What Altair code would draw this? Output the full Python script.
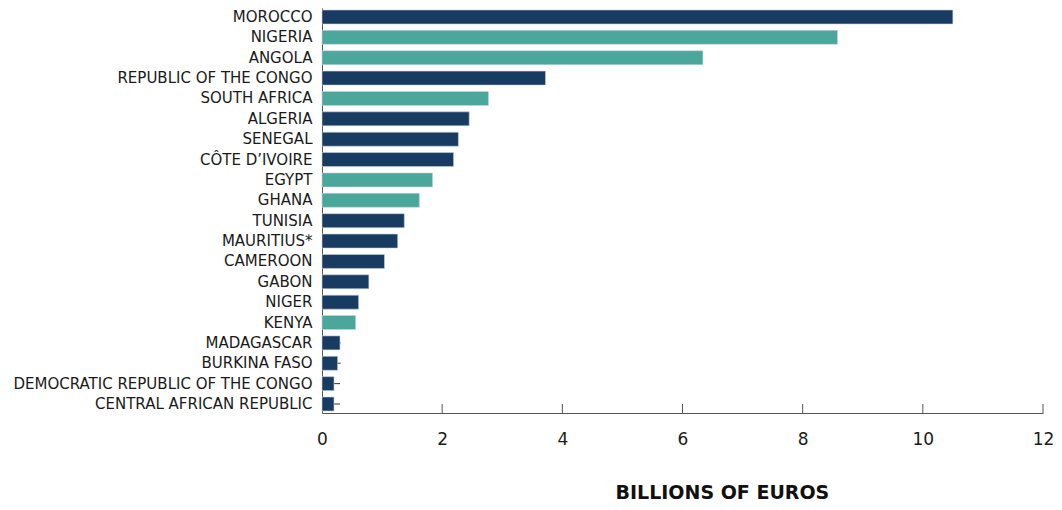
import altair as alt
import pandas as pd

countries = ["MOROCCO", "NIGERIA", "ANGOLA", "REPUBLIC OF THE CONGO", "SOUTH AFRICA",
             "ALGERIA", "SENEGAL", "CÔTE D’IVOIRE", "EGYPT", "GHANA", "TUNISIA",
             "MAURITIUS*", "CAMEROON", "GABON", "NIGER", "KENYA", "MADAGASCAR",
             "BURKINA FASO", "DEMOCRATIC REPUBLIC OF THE CONGO", "CENTRAL AFRICAN REPUBLIC"]
values = [10.5, 8.58, 6.34, 3.72, 2.77, 2.45, 2.27, 2.19, 1.84, 1.62, 1.37,
          1.26, 1.04, 0.78, 0.61, 0.56, 0.30, 0.26, 0.20, 0.20]
groups = ["A", "B", "B", "A", "B", "A", "A", "A", "B", "B", "A",
          "A", "A", "A", "A", "B", "A", "A", "A", "A"]
marker_countries = ["MADAGASCAR", "BURKINA FASO", "DEMOCRATIC REPUBLIC OF THE CONGO", "CENTRAL AFRICAN REPUBLIC"]
marker_values = [0.31, 0.31, 0.30, 0.30]
tick_values = [2, 4, 6, 8, 10, 12]

df = pd.DataFrame({"country": countries, "value": values, "group": groups})
mk = pd.DataFrame({"country": marker_countries, "value": marker_values})
tk = pd.DataFrame({"t": tick_values})

W, H = 721, 405
FONT = "DejaVu Sans"

xscale = alt.Scale(domain=[0, 12], nice=False)

bars = alt.Chart(df).mark_bar(stroke="#c9d3de", strokeWidth=0.6).encode(
    y=alt.Y("country:N", sort=countries, scale=alt.Scale(paddingInner=0.313, paddingOuter=0.098),
            axis=alt.Axis(title=None, labelFont=FONT, labelFontSize=15, labelColor="#1a1a1a",
                          labelPadding=10, ticks=False, domainColor="#555555", domainWidth=1,
                          labelLimit=400)),
    x=alt.X("value:Q", scale=xscale,
            axis=alt.Axis(values=[0] + tick_values, format="d", ticks=False, labelFont=FONT,
                          labelFontSize=17, labelColor="#1a1a1a", labelPadding=18,
                          domainColor="#555555",
                          title="BILLIONS OF EUROS", titleFont=FONT, titleFontSize=19,
                          titleFontWeight="bold", titleColor="#111111", titleAnchor="start",
                          titleAlign="left", titleX=293, titleY=85, titleBaseline="alphabetic",
                          grid=False)),
    color=alt.Color("group:N", scale=alt.Scale(domain=["A", "B"], range=["#173b61", "#4ba69c"]),
                    legend=None),
)

markers = alt.Chart(mk).mark_rule(color="#333333", strokeWidth=1).encode(
    y=alt.Y("country:N", sort=countries),
    x=alt.X("value:Q", scale=xscale),
    x2=alt.datum(0),
)

ticks = alt.Chart(tk).mark_rule(color="#555555", strokeWidth=1).encode(
    x=alt.X("t:Q", scale=xscale),
    y=alt.value(H - 9),
    y2=alt.value(H),
)

chart = alt.layer(markers, bars, ticks).properties(
    width=W, height=H,
    autosize=alt.AutoSizeParams(type="none"),
    padding={"left": 314, "top": 0, "right": 11, "bottom": 89},
).configure_view(stroke=None).configure_axis(labelFlush=False)

chart.save("out.html", embed_options={"renderer": "svg", "actions": False})
